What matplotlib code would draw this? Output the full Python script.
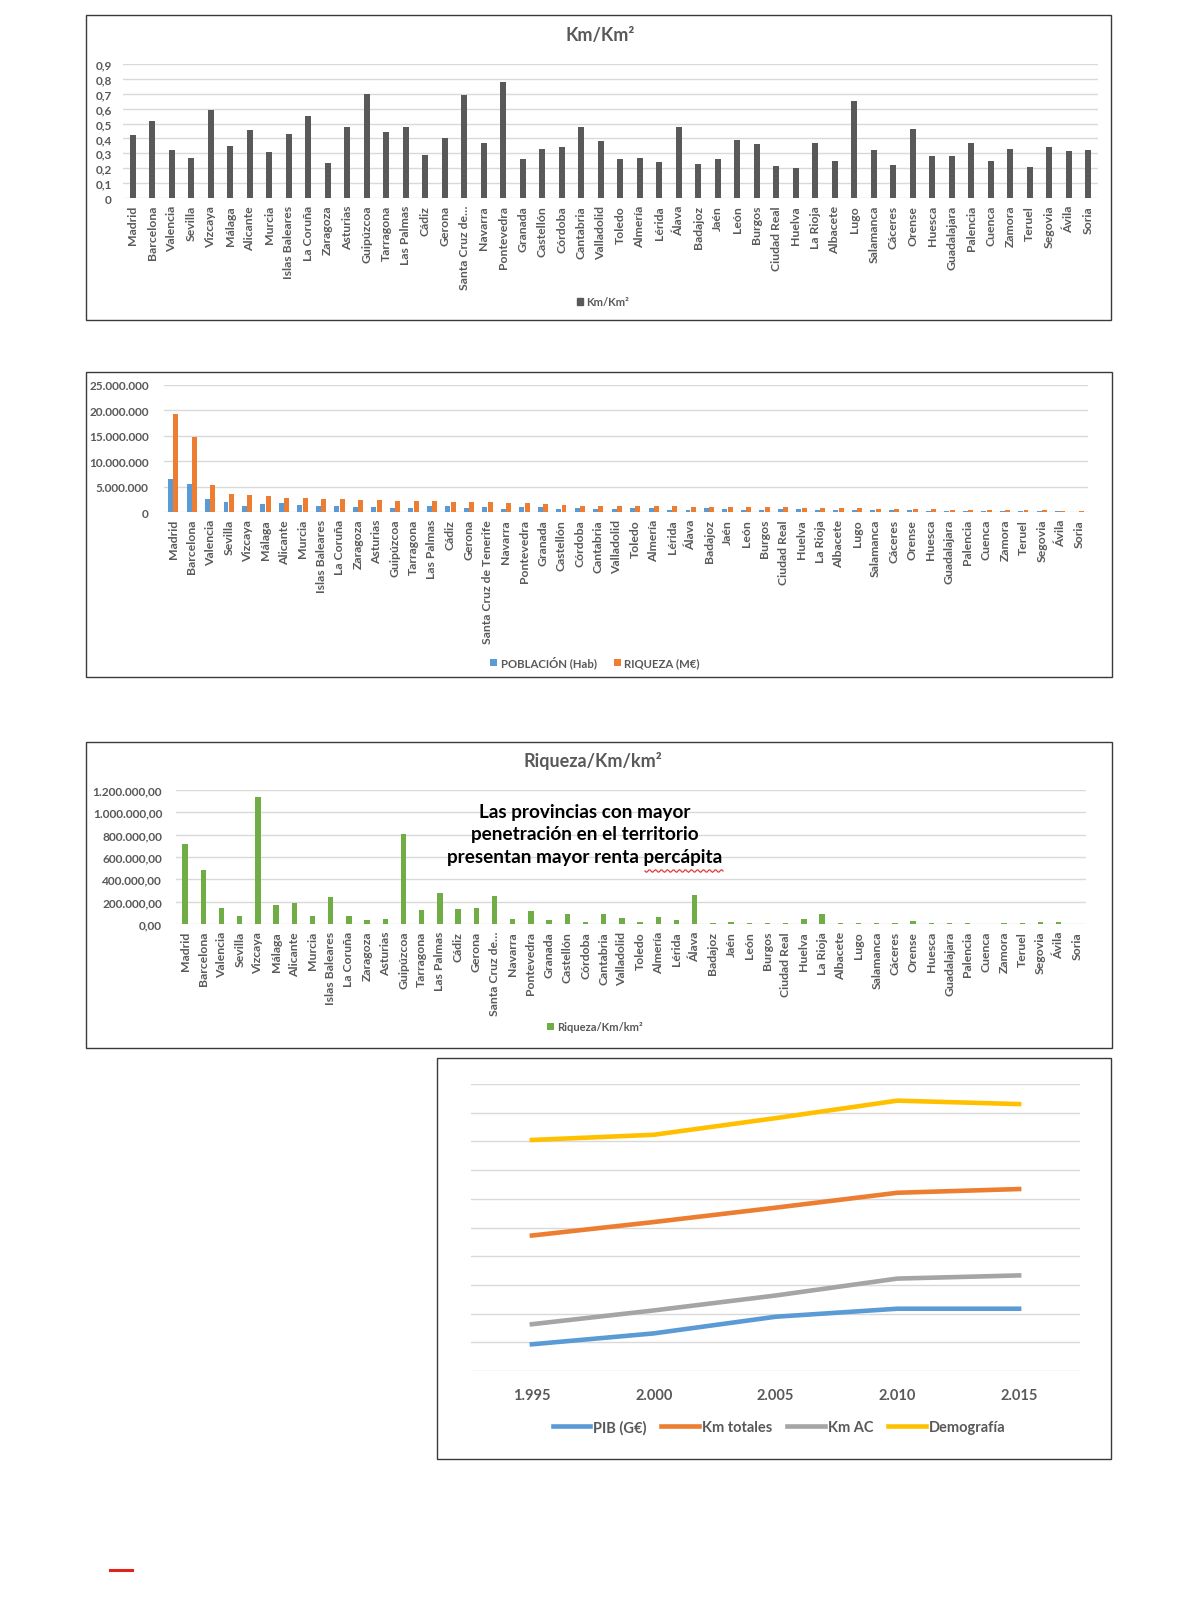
import numpy as np
import matplotlib
matplotlib.use("Agg")
import matplotlib.pyplot as plt
from matplotlib.patches import Rectangle, Patch
from matplotlib.lines import Line2D

plt.rcParams['font.family'] = ['Lato', 'DejaVu Sans']

# ---------------- DATA ----------------
provincias = ["Madrid", "Barcelona", "Valencia", "Sevilla", "Vizcaya", "Málaga", "Alicante",
              "Murcia", "Islas Baleares", "La Coruña", "Zaragoza", "Asturias", "Guipúzcoa",
              "Tarragona", "Las Palmas", "Cádiz", "Gerona", "Santa Cruz de…", "Navarra",
              "Pontevedra", "Granada", "Castellón", "Córdoba", "Cantabria", "Valladolid",
              "Toledo", "Almería", "Lérida", "Álava", "Badajoz", "Jaén", "León", "Burgos",
              "Ciudad Real", "Huelva", "La Rioja", "Albacete", "Lugo", "Salamanca", "Cáceres",
              "Orense", "Huesca", "Guadalajara", "Palencia", "Cuenca", "Zamora", "Teruel",
              "Segovia", "Ávila", "Soria"]
provincias_completas = provincias[:17] + ["Santa Cruz de Tenerife"] + provincias[18:]

km_km2 = [0.42, 0.515, 0.32, 0.27, 0.59, 0.35, 0.46, 0.31, 0.43, 0.55, 0.235, 0.48, 0.70,
          0.44, 0.48, 0.29, 0.40, 0.69, 0.37, 0.78, 0.26, 0.33, 0.34, 0.48, 0.38,
          0.26, 0.27, 0.24, 0.48, 0.23, 0.26, 0.39, 0.36, 0.215, 0.20, 0.37, 0.25, 0.65,
          0.32, 0.22, 0.465, 0.28, 0.285, 0.37, 0.25, 0.33, 0.21, 0.345, 0.315, 0.32]

poblacion = [6.45e6, 5.46e6, 2.57e6, 1.9e6, 1.1e6, 1.6e6, 1.8e6, 1.45e6, 1.1e6, 1.1e6,
             0.95e6, 1.05e6, 0.7e6, 0.8e6, 1.1e6, 1.2e6, 0.75e6, 1.0e6, 0.64e6, 0.95e6,
             0.92e6, 0.58e6, 0.8e6, 0.58e6, 0.52e6, 0.7e6, 0.7e6, 0.44e6, 0.32e6, 0.69e6,
             0.66e6, 0.48e6, 0.36e6, 0.51e6, 0.52e6, 0.32e6, 0.39e6, 0.34e6, 0.34e6, 0.41e6,
             0.32e6, 0.22e6, 0.25e6, 0.17e6, 0.2e6, 0.18e6, 0.14e6, 0.16e6, 0.16e6, 0.09e6]
riqueza = [19.2e6, 14.8e6, 5.33e6, 3.5e6, 3.3e6, 3.2e6, 2.8e6, 2.7e6, 2.6e6, 2.5e6,
           2.4e6, 2.3e6, 2.2e6, 2.1e6, 2.1e6, 2.0e6, 2.0e6, 1.9e6, 1.85e6, 1.8e6,
           1.5e6, 1.3e6, 1.25e6, 1.25e6, 1.25e6, 1.2e6, 1.15e6, 1.1e6, 1.05e6, 1.0e6,
           0.95e6, 0.95e6, 0.95e6, 0.9e6, 0.85e6, 0.8e6, 0.75e6, 0.7e6, 0.65e6, 0.6e6,
           0.55e6, 0.5e6, 0.45e6, 0.4e6, 0.35e6, 0.35e6, 0.3e6, 0.3e6, 0.28e6, 0.2e6]

riqueza_km = [714e3, 480e3, 147e3, 72e3, 1140e3, 174e3, 186e3, 75e3, 246e3, 75e3,
              36e3, 45e3, 810e3, 123e3, 276e3, 135e3, 144e3, 252e3, 48e3, 117e3,
              36e3, 93e3, 21e3, 90e3, 54e3, 21e3, 60e3, 36e3, 258e3, 9e3,
              21e3, 9e3, 9e3, 9e3, 45e3, 87e3, 9e3, 9e3, 9e3, 6e3,
              24e3, 6e3, 9e3, 12e3, 3e3, 6e3, 5e3, 20e3, 15e3, 3e3]

anios = [1995, 2000, 2005, 2010, 2015]
pib = [0.93, 1.31, 1.89, 2.17, 2.17]
km_totales = [4.72, 5.19, 5.69, 6.21, 6.34]
km_ac = [1.63, 2.11, 2.63, 3.22, 3.33]
demografia = [8.05, 8.23, 8.81, 9.42, 9.30]

# ---------------- STYLE ----------------
W, H = 1196, 1624
GRAY_TXT = '#595959'
GRID = '#D9D9D9'
C_DARK = '#595959'
C_BLUE = '#5B9BD5'
C_ORANGE = '#ED7D31'
C_GREEN = '#70AD47'
C_GRAY = '#A5A5A5'
C_YELLOW = '#FFC000'

fig = plt.figure(figsize=(W / 100, H / 100), dpi=100)
fig.patch.set_facecolor('white')


def rect(x0, y0, x1, y1):
    return [x0 / W, 1 - y1 / H, (x1 - x0) / W, (y1 - y0) / H]


def fpt(x, y):
    return (x / W, 1 - y / H)


def panel_box(x0, y0, x1, y1):
    fig.add_artist(Rectangle((x0 / W, 1 - y1 / H), (x1 - x0) / W, (y1 - y0) / H,
                             transform=fig.transFigure, fill=False, ec='#3a3a3a', lw=1.0))


def style_ax(ax, ypad, xpad, xfs, yfs):
    for s in ax.spines.values():
        s.set_visible(False)
    ax.set_axisbelow(True)
    ax.yaxis.grid(True, color=GRID, lw=1.0)
    ax.xaxis.grid(False)
    ax.tick_params(axis='both', length=0)
    ax.tick_params(axis='y', pad=ypad, labelsize=yfs, labelcolor=GRAY_TXT)
    ax.tick_params(axis='x', pad=xpad, labelsize=xfs, labelcolor=GRAY_TXT)
    for lab in ax.get_xticklabels() + ax.get_yticklabels():
        lab.set_fontweight('bold')


def fmt_es(v, dec=0):
    s = f"{v:,.{dec}f}"
    return s.replace(',', 'X').replace('.', ',').replace('X', '.')


x = np.arange(len(provincias))
XFS = 8.8

# ---------------- PANEL 1 ----------------
panel_box(86, 16, 1111, 321)
ax1 = fig.add_axes(rect(123, 65, 1098, 199))
ax1.bar(x, km_km2, width=0.3, color=C_DARK)
ax1.set_xlim(-0.5, len(x) - 0.5)
ax1.set_ylim(0, 0.9)
yt1 = np.round(np.arange(0, 0.91, 0.1), 1)
ax1.set_yticks(yt1)
ax1.set_yticklabels(['0' if v == 0 else fmt_es(v, 1) for v in yt1])
ax1.set_xticks(x)
ax1.set_xticklabels(provincias, rotation=90)
style_ax(ax1, 8, 5, XFS, 8.5)
fig.text(*fpt(600, 35), 'Km/Km²', ha='center', va='center', fontsize=13,
         fontweight='bold', color=GRAY_TXT)
fig.legend(handles=[Patch(color=C_DARK, label='Km/Km²')], loc='center',
           bbox_to_anchor=fpt(603, 303), frameon=False, prop={'size': 8, 'weight': 'bold'},
           labelcolor=GRAY_TXT, handlelength=0.6, handleheight=0.6, handletextpad=0.3)

# ---------------- PANEL 2 ----------------
panel_box(86, 373, 1112, 678)
ax2 = fig.add_axes(rect(164, 386, 1088, 513))
ax2.bar(x - 0.145, poblacion, width=0.27, color=C_BLUE, label='POBLACIÓN (Hab)')
ax2.bar(x + 0.145, riqueza, width=0.27, color=C_ORANGE, label='RIQUEZA (M€)')
ax2.set_xlim(-0.5, len(x) - 0.5)
ax2.set_ylim(0, 25e6)
yt2 = np.arange(0, 25e6 + 1, 5e6)
ax2.set_yticks(yt2)
ax2.set_yticklabels([fmt_es(v) for v in yt2])
ax2.set_xticks(x)
ax2.set_xticklabels(provincias_completas, rotation=90)
style_ax(ax2, 11, 5, XFS, 8.5)
h2, l2 = ax2.get_legend_handles_labels()
fig.legend(h2, l2, loc='center', ncol=2, bbox_to_anchor=fpt(595, 663), frameon=False,
           prop={'size': 8.2, 'weight': 'bold'}, labelcolor=GRAY_TXT, handlelength=0.6,
           handleheight=0.6, handletextpad=0.3, columnspacing=1.5)

# ---------------- PANEL 3 ----------------
panel_box(86, 743, 1112, 1049)
ax3 = fig.add_axes(rect(176, 791, 1086, 925))
ax3.bar(x, riqueza_km, width=0.3, color=C_GREEN, label='Riqueza/Km/km²')
ax3.set_xlim(-0.5, len(x) - 0.5)
ax3.set_ylim(0, 1.2e6)
yt3 = np.arange(0, 1.2e6 + 1, 2e5)
ax3.set_yticks(yt3)
ax3.set_yticklabels([fmt_es(v, 2) for v in yt3])
ax3.set_xticks(x)
ax3.set_xticklabels(provincias, rotation=90)
style_ax(ax3, 10, 5, XFS, 8.6)
fig.text(*fpt(593, 761), 'Riqueza/Km/km²', ha='center', va='center', fontsize=13,
         fontweight='bold', color=GRAY_TXT)
fig.text(*fpt(585, 835), 'Las provincias con mayor\npenetración en el territorio\n'
         'presentan mayor renta percápita', ha='center', va='center', fontsize=13.6,
         fontweight='bold', color='black', linespacing=1.42)
sq_x = np.linspace(645, 723, 60)
sq_y = 872 + 1.3 * np.sin(np.linspace(0, 13 * 2 * np.pi, 60))
fig.add_artist(Line2D(sq_x / W, 1 - sq_y / H, transform=fig.transFigure,
                      color='#E03C3C', lw=0.9))
h3, l3 = ax3.get_legend_handles_labels()
fig.legend(h3, l3, loc='center', bbox_to_anchor=fpt(595, 1028), frameon=False,
           prop={'size': 8, 'weight': 'bold'}, labelcolor=GRAY_TXT, handlelength=0.6,
           handleheight=0.6, handletextpad=0.3)

# ---------------- PANEL 4 ----------------
panel_box(437, 1059, 1111, 1460)
ax4 = fig.add_axes(rect(471, 1085, 1080, 1372))
xi = np.arange(len(anios))
ax4.plot(xi, pib, color=C_BLUE, lw=3.3, label='PIB (G€)')
ax4.plot(xi, km_totales, color=C_ORANGE, lw=3.3, label='Km totales')
ax4.plot(xi, km_ac, color=C_GRAY, lw=3.3, label='Km AC')
ax4.plot(xi, demografia, color=C_YELLOW, lw=3.3, label='Demografía')
ax4.set_xlim(-0.5, len(anios) - 0.5)
ax4.set_ylim(0, 10)
ax4.set_yticks(np.arange(0, 11, 1))
ax4.set_yticklabels([])
ax4.set_xticks(xi)
ax4.set_xticklabels([fmt_es(a) for a in anios])
style_ax(ax4, 4, 12, 10.5, 8)
h4, l4 = ax4.get_legend_handles_labels()
fig.legend(h4, l4, loc='center', ncol=4, bbox_to_anchor=fpt(779, 1428), frameon=False,
           prop={'size': 10.5, 'weight': 'bold'}, labelcolor=GRAY_TXT, handlelength=2.6,
           handletextpad=0.2, columnspacing=1.0)

# red dash at the bottom left
fig.add_artist(Line2D([110 / W, 132 / W], [1 - 1571 / H, 1 - 1571 / H],
                      transform=fig.transFigure, color='#E2231A', lw=2.2))

fig.savefig('out.png', dpi=100, facecolor='white')
